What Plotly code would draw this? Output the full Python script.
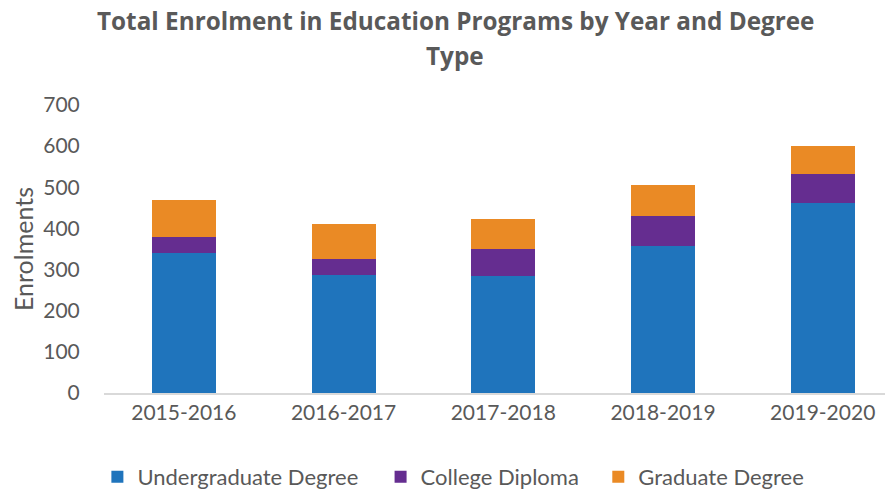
import plotly.graph_objects as go

years = ["2015-2016", "2016-2017", "2017-2018", "2018-2019", "2019-2020"]
undergraduate = [340, 288, 285, 357, 461]
college = [39, 38, 66, 73, 71]
graduate = [91, 85, 72, 76, 68]

series_names = ["Undergraduate Degree", "College Diploma", "Graduate Degree"]
colors = ["#1F74BC", "#652D90", "#EA8A25"]
legend_ids = ["legend", "legend2", "legend3"]
legend_x = [0.101, 0.421, 0.667]

grey = "#595959"
font_main = "Lato"

fig = go.Figure()
for name, vals, col, lg in zip(series_names, [undergraduate, college, graduate], colors, legend_ids):
    fig.add_trace(go.Bar(x=years, y=vals, name=name, legend=lg, showlegend=True,
                         marker=dict(color=col, line=dict(width=0))))

leg_common = dict(orientation="h", xanchor="left", xref="container", yref="container",
                  y=0.029, yanchor="middle",
                  font=dict(size=22, color=grey, family=font_main), bgcolor="rgba(0,0,0,0)")

fig.update_layout(
    width=885, height=483, showlegend=True,
    barmode="stack", bargap=0.6,
    paper_bgcolor="white", plot_bgcolor="white",
    margin=dict(l=96, r=0, t=97, b=98, autoexpand=False),
    font=dict(family=font_main, color=grey, size=20),
    xaxis=dict(
        type="category", range=[-0.5, 4.44],
        showline=True, linecolor="#D9D9D9", linewidth=1.5,
        ticks="", tickfont=dict(size=21, color=grey), showgrid=False,
    ),
    yaxis=dict(
        range=[0, 700], dtick=100, showgrid=False, zeroline=False,
        tickfont=dict(size=21, color=grey), ticks="outside", ticklen=19, tickcolor="rgba(0,0,0,0)",
        title=dict(text="Enrolments", font=dict(size=25, color=grey), standoff=2),
    ),
    legend=dict(x=legend_x[0], **leg_common),
    legend2=dict(x=legend_x[1], **leg_common),
    legend3=dict(x=legend_x[2], **leg_common),
    annotations=[
        dict(text="<b>Total Enrolment in Education Programs by Year and Degree</b>",
             xref="paper", yref="paper", x=0.445, y=1.295,
             xanchor="center", yanchor="middle",
             showarrow=False, font=dict(family="Open Sans", size=24.3, color=grey)),
        dict(text="<b>Type</b>",
             xref="paper", yref="paper", x=0.445, y=1.172,
             xanchor="center", yanchor="middle",
             showarrow=False, font=dict(family="Open Sans", size=24.3, color=grey)),
    ],
)

fig.write_html("out.html")
